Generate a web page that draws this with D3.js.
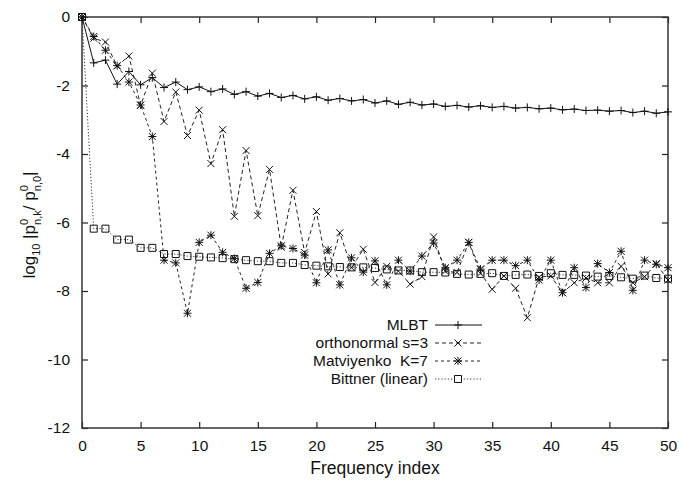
<!DOCTYPE html>
<html>
<head>
<meta charset="utf-8">
<script src="https://cdn.jsdelivr.net/npm/d3@7"></script>
<style>
  body { margin: 0; background: #fff; }
  text { font-family: "Liberation Sans", Arial, sans-serif; fill: #111; }
</style>
</head>
<body>
<div id="chart"></div>
<script>
// frequency index (x categories)
var freqIndex = d3.range(0, 51);

var yTicks = [0, -2, -4, -6, -8, -10, -12];
var xTicks = [0, 5, 10, 15, 20, 25, 30, 35, 40, 45, 50];

var mlbt = [0, -1.34, -1.26, -1.96, -1.59, -1.98, -1.77, -2.06, -1.90, -2.12, -2.04,
  -2.18, -2.10, -2.26, -2.18, -2.31, -2.23, -2.35, -2.29, -2.39, -2.33,
  -2.43, -2.38, -2.45, -2.41, -2.51, -2.45, -2.55, -2.49, -2.57, -2.54,
  -2.61, -2.58, -2.63, -2.59, -2.64, -2.61, -2.66, -2.64, -2.68, -2.66,
  -2.71, -2.69, -2.73, -2.72, -2.75, -2.73, -2.79, -2.75, -2.81, -2.77];

var orthonormal = [0, -0.62, -0.73, -1.43, -1.14, -2.58, -1.64, -3.05, -2.19, -3.46, -2.72,
  -4.28, -3.29, -5.82, -3.90, -5.80, -4.45, -6.72, -5.06, -6.88, -5.68,
  -7.50, -6.30, -7.32, -6.78, -7.75, -7.28, -7.42, -7.80, -7.58, -6.42,
  -7.42, -7.46, -6.58, -7.48, -7.95, -7.56, -7.92, -8.78, -7.60, -7.56,
  -8.05, -7.76, -7.62, -7.76, -7.76, -7.28, -7.76, -7.58, -7.20, -7.68];

var matviyenko = [0, -0.57, -0.97, -1.42, -1.90, -2.57, -3.49, -7.10, -7.18, -8.65, -6.58,
  -6.37, -6.87, -7.05, -7.92, -7.75, -6.90, -6.68, -6.76, -6.95, -7.76,
  -6.80, -7.82, -7.03, -7.45, -7.12, -7.82, -7.10, -7.42, -6.98, -6.60,
  -7.32, -7.10, -6.58, -7.36, -7.10, -7.10, -7.26, -7.10, -7.68, -7.10,
  -8.05, -7.32, -7.90, -7.20, -7.46, -6.84, -7.98, -7.10, -7.22, -7.32];

var bittner = [0, -6.18, -6.18, -6.50, -6.50, -6.74, -6.74, -6.92, -6.92, -6.98, -7.00,
  -7.02, -7.04, -7.07, -7.10, -7.13, -7.13, -7.18, -7.18, -7.24, -7.26,
  -7.28, -7.30, -7.31, -7.31, -7.33, -7.37, -7.40, -7.40, -7.45, -7.45,
  -7.46, -7.50, -7.52, -7.50, -7.48, -7.56, -7.53, -7.52, -7.56, -7.48,
  -7.53, -7.53, -7.55, -7.58, -7.56, -7.60, -7.64, -7.55, -7.62, -7.64];

var seriesNames = ["MLBT", "orthonormal s=3", "Matviyenko  K=7", "Bittner (linear)"];

var svgWidth = 679;
var svgHeight = 481;
var margin = { top: 17, right: 11, bottom: 53, left: 82 };
var width = svgWidth - margin.left - margin.right;
var height = svgHeight - margin.top - margin.bottom;

var svg = d3.select("#chart")
  .append("svg")
  .attr("width", svgWidth)
  .attr("height", svgHeight);

var chartGroup = svg.append("g")
  .attr("transform", `translate(${margin.left}, ${margin.top})`);

var xScale = d3.scaleLinear().domain([0, 50]).range([0, width]);
var yScale = d3.scaleLinear().domain([-12, 0]).range([height, 0]);

// axes, ticks pointing inward on all four sides
function styleAxis(g) {
  g.select(".domain").remove();
  g.selectAll("line").attr("stroke", "#222").attr("stroke-width", 1.2);
  g.selectAll("text").style("font-size", "15.5px")
    .style("font-family", "'Liberation Sans', Arial, sans-serif").attr("fill", "#111");
}

chartGroup.append("g")
  .attr("transform", `translate(0, ${height})`)
  .call(d3.axisBottom(xScale).tickValues(xTicks).tickSize(-6).tickPadding(12).tickFormat(d => String(d)))
  .call(styleAxis);

chartGroup.append("g")
  .call(d3.axisTop(xScale).tickValues(xTicks).tickSize(-6).tickFormat(""))
  .call(styleAxis);

chartGroup.append("g")
  .call(d3.axisLeft(yScale).tickValues(yTicks).tickSize(-6).tickPadding(12).tickFormat(d => String(d)))
  .call(styleAxis);

chartGroup.append("g")
  .attr("transform", `translate(${width}, 0)`)
  .call(d3.axisRight(yScale).tickValues(yTicks).tickSize(-6).tickFormat(""))
  .call(styleAxis);

// plot frame
chartGroup.append("rect")
  .attr("width", width)
  .attr("height", height)
  .attr("fill", "none")
  .attr("stroke", "#333")
  .attr("stroke-width", 1.5);

// marker shapes
var plusPath = "M-4,0H4M0,-4V4";
var crossPath = "M-3.5,-3.5L3.5,3.5M-3.5,3.5L3.5,-3.5";
var starPath = plusPath + crossPath;
var squarePath = "M-3.5,-3.5H3.5V3.5H-3.5Z";

var series = [
  { name: seriesNames[0], values: mlbt, dash: null, marker: plusPath, color: "#111" },
  { name: seriesNames[1], values: orthonormal, dash: "4,3", marker: crossPath, color: "#222" },
  { name: seriesNames[2], values: matviyenko, dash: "3,3", marker: starPath, color: "#222" },
  { name: seriesNames[3], values: bittner, dash: "1.2,2", marker: squarePath, color: "#333" }
];

var line = d3.line()
  .x((d, i) => xScale(freqIndex[i]))
  .y(d => yScale(d));

series.slice().reverse().forEach(function(s) {
  chartGroup.append("path")
    .datum(s.values)
    .attr("d", line)
    .attr("fill", "none")
    .attr("stroke", s.color)
    .attr("stroke-width", 1)
    .attr("stroke-dasharray", s.dash);

  chartGroup.selectAll(null)
    .data(s.values)
    .enter()
    .append("path")
    .attr("transform", (d, i) => `translate(${xScale(freqIndex[i])}, ${yScale(d)})`)
    .attr("d", s.marker)
    .attr("fill", "none")
    .attr("stroke", "#111")
    .attr("stroke-width", 1);
});

// legend
var legend = svg.append("g");
series.forEach(function(s, i) {
  var ly = 325 + i * 18;
  legend.append("text")
    .attr("x", 428)
    .attr("y", ly + 5)
    .attr("text-anchor", "end")
    .style("font-size", "15.5px")
    .style("white-space", "pre")
    .attr("xml:space", "preserve")
    .text(s.name);
  legend.append("line")
    .attr("x1", 435).attr("x2", 482)
    .attr("y1", ly).attr("y2", ly)
    .attr("stroke", s.color)
    .attr("stroke-width", 1)
    .attr("stroke-dasharray", s.dash);
  legend.append("path")
    .attr("transform", `translate(458, ${ly})`)
    .attr("d", s.marker)
    .attr("fill", "#fff")
    .attr("stroke", "#111");
});

// x axis label
svg.append("text")
  .attr("x", margin.left + width / 2)
  .attr("y", 474)
  .attr("text-anchor", "middle")
  .style("font-size", "17.5px")
  .text("Frequency index");

// y axis label: log10 |p^0_{n,k} / p^0_{n,0}|
var yLabel = svg.append("text")
  .attr("transform", "translate(35, 225) rotate(-90)")
  .attr("text-anchor", "middle")
  .style("font-size", "17px");
yLabel.append("tspan").text("log");
yLabel.append("tspan").attr("dy", 5).style("font-size", "11px").text("10");
yLabel.append("tspan").attr("dy", -5).text(" |p");
yLabel.append("tspan").attr("dy", -7).style("font-size", "11px").text("0");
yLabel.append("tspan").attr("dx", -6).attr("dy", 13).style("font-size", "11px").text("n,k");
yLabel.append("tspan").attr("dy", -6).text("/ p");
yLabel.append("tspan").attr("dy", -7).style("font-size", "11px").text("0");
yLabel.append("tspan").attr("dx", -6).attr("dy", 13).style("font-size", "11px").text("n,0");
yLabel.append("tspan").attr("dy", -6).text("|");
</script>
</body>
</html>
